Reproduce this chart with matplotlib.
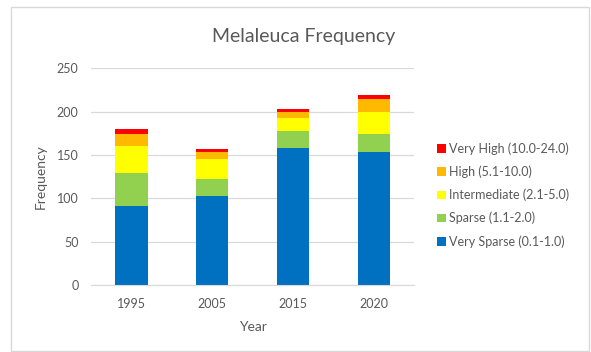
import numpy as np
import matplotlib
matplotlib.use("Agg")
import matplotlib.pyplot as plt
from matplotlib.patches import Rectangle

plt.rcParams["font.family"] = ["Lato", "DejaVu Sans"]

# Frequency counts per density class
years = ["1995", "2005", "2015", "2020"]
very_sparse = [91, 103, 158, 154]
sparse = [38, 19, 20, 20]
intermediate = [31, 23, 15, 26]
high = [14, 9, 7, 15]
very_high = [6, 3, 3, 4]

classes = [
    ("Very Sparse (0.1-1.0)", very_sparse, "#0070C0"),
    ("Sparse (1.1-2.0)", sparse, "#92D050"),
    ("Intermediate (2.1-5.0)", intermediate, "#FFFF00"),
    ("High (5.1-10.0)", high, "#FFB900"),
    ("Very High (10.0-24.0)", very_high, "#FF0000"),
]

text_col = "#595959"

fig = plt.figure(figsize=(5.91, 3.52), dpi=100)
ax = fig.add_axes([0.154, 0.19, 0.547, 0.616])

# chart frame
fig.patches.append(Rectangle((11 / 591, 1 / 352), 578 / 591, 344 / 352,
                             transform=fig.transFigure, fill=False,
                             edgecolor="#D9D9D9", linewidth=1.0))

x = np.arange(len(years))
bottom = np.zeros(len(years))
handles = []
for label, vals, color in classes:
    b = ax.bar(x, vals, width=0.4, bottom=bottom, color=color, label=label)
    handles.append(b)
    bottom += np.array(vals)

ax.set_xlim(-0.5, 3.5)
ax.set_ylim(0, 250)
ax.set_yticks(np.arange(0, 251, 50))
ax.set_xticks(x)
ax.set_xticklabels(years)
ax.yaxis.grid(True, color="#D9D9D9", linewidth=0.9)
ax.set_axisbelow(True)
for s in ["top", "right", "left"]:
    ax.spines[s].set_visible(False)
ax.spines["bottom"].set_color("#D9D9D9")
ax.tick_params(length=0, colors=text_col, labelsize=9, pad=9)

ax.set_xlabel("Year", color=text_col, fontsize=10, labelpad=8)
ax.set_ylabel("Frequency", color=text_col, fontsize=10, labelpad=7)
fig.text(0.513, 0.895, "Melaleuca Frequency", ha="center", va="center",
         color=text_col, fontsize=14)

fig.legend(handles[::-1], [c[0] for c in classes][::-1],
           loc="center left", bbox_to_anchor=(0.72, 0.446),
           frameon=False, fontsize=9, labelcolor=text_col,
           handlelength=0.7, handleheight=0.7, handletextpad=0.3,
           labelspacing=0.85)

fig.savefig("out.png", dpi=100)
